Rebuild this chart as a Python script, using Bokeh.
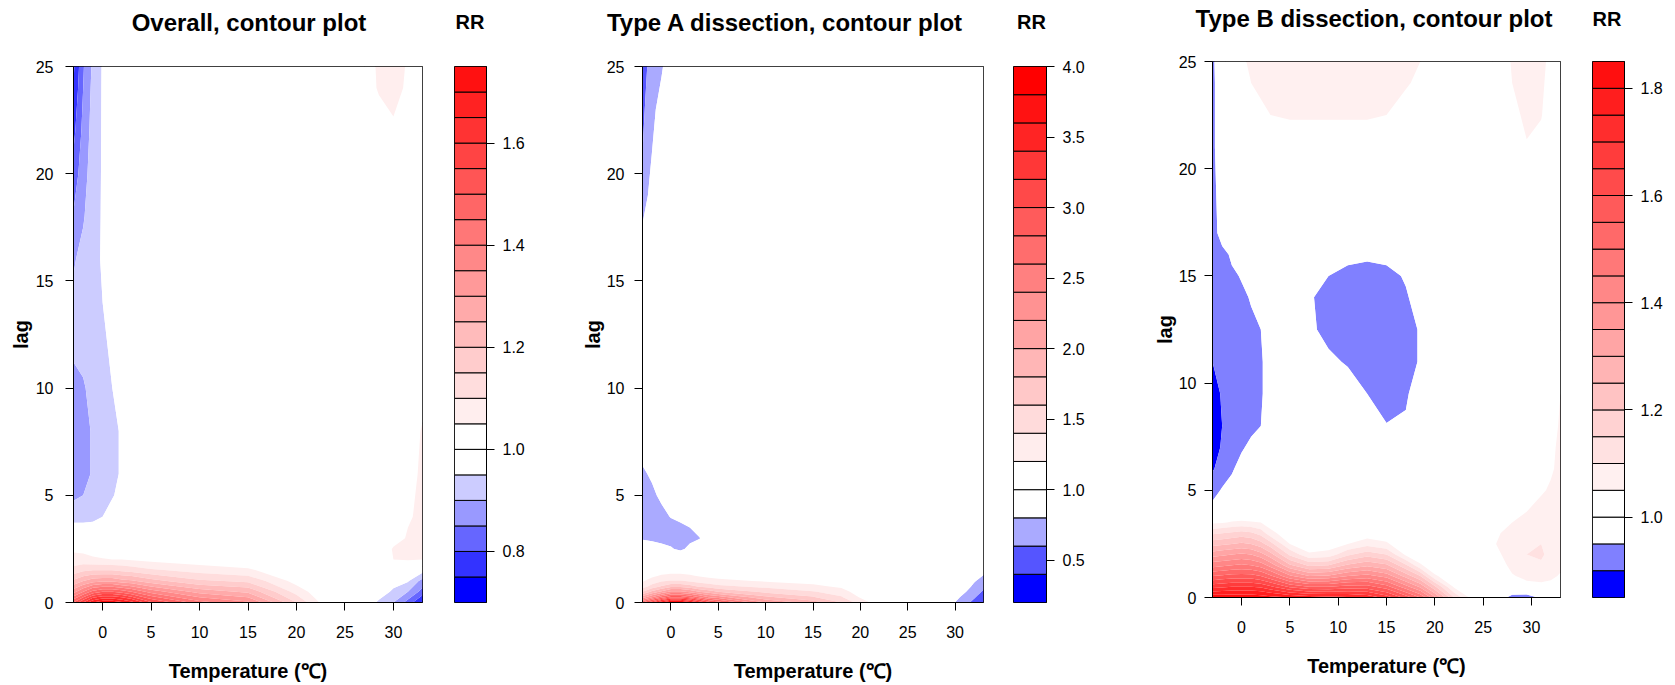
import numpy as np
from bokeh.plotting import figure
from bokeh.layouts import row, column
from bokeh.models import Range1d, FixedTicker, NumeralTickFormatter, Div
from bokeh.embed import file_html
from bokeh.resources import INLINE

FONT = "Liberation Sans"
FH = 536   # frame height (px)
DH = 46    # height of the title strip above each figure

# ---------------- data: RR surfaces ----------------
# Panel 1: Overall
temp_overall = [-3, -2, -1, 0, 1, 2, 3, 5, 10, 15, 20, 22, 24, 27, 28.5, 30, 31.5, 33]
lag_overall = [0, 0.5, 1, 1.5, 2, 2.5, 3, 4, 5, 6, 8, 10, 12, 14, 16, 18, 20, 22, 24, 25]
rr_overall = [
    [1.50, 1.60, 1.70, 1.74, 1.74, 1.71, 1.67, 1.56, 1.42, 1.36, 1.15, 1.06, 1.00, 0.99, 0.94, 0.90, 0.83, 0.74],
    [1.33, 1.40, 1.47, 1.50, 1.50, 1.48, 1.45, 1.38, 1.28, 1.24, 1.08, 1.03, 1.00, 1.00, 0.98, 0.94, 0.90, 0.83],
    [1.21, 1.25, 1.28, 1.29, 1.29, 1.27, 1.26, 1.22, 1.16, 1.14, 1.03, 1.00, 1.00, 1.00, 0.99, 0.97, 0.955, 0.88],
    [1.12, 1.14, 1.15, 1.15, 1.15, 1.14, 1.13, 1.11, 1.08, 1.06, 1.00, 1.00, 1.00, 1.00, 1.00, 0.99, 0.98, 0.97],
    [1.07, 1.07, 1.06, 1.055, 1.05, 1.05, 1.045, 1.035, 1.02, 1.01, 1.00, 1.00, 1.00, 1.00, 1.02, 1.05, 1.055, 1.05],
    [1.04, 1.035, 1.025, 1.015, 1.01, 1.005, 1.00, 1.00, 1.00, 1.00, 1.00, 1.00, 1.00, 1.00, 1.01, 1.055, 1.065, 1.065],
    [1.00, 1.00, 1.00, 1.00, 1.00, 1.00, 1.00, 1.00, 1.00, 1.00, 1.00, 1.00, 1.00, 1.00, 1.00, 1.03, 1.055, 1.065],
    [0.93, 0.93, 0.935, 0.95, 0.975, 0.99, 1.00, 1.00, 1.00, 1.00, 1.00, 1.00, 1.00, 1.00, 1.00, 1.01, 1.045, 1.06],
    [0.89, 0.90, 0.915, 0.93, 0.945, 0.97, 0.99, 1.00, 1.00, 1.00, 1.00, 1.00, 1.00, 1.00, 1.00, 1.00, 1.04, 1.06],
    [0.875, 0.885, 0.905, 0.925, 0.94, 0.955, 0.98, 1.00, 1.00, 1.00, 1.00, 1.00, 1.00, 1.00, 1.00, 1.00, 1.03, 1.06],
    [0.87, 0.885, 0.905, 0.925, 0.94, 0.955, 0.98, 1.00, 1.00, 1.00, 1.00, 1.00, 1.00, 1.00, 1.00, 1.00, 1.02, 1.055],
    [0.885, 0.895, 0.915, 0.93, 0.95, 0.97, 0.99, 1.00, 1.00, 1.00, 1.00, 1.00, 1.00, 1.00, 1.00, 1.00, 1.01, 1.03],
    [0.91, 0.915, 0.925, 0.94, 0.96, 0.98, 1.00, 1.00, 1.00, 1.00, 1.00, 1.00, 1.00, 1.00, 1.00, 1.00, 1.00, 1.01],
    [0.91, 0.92, 0.935, 0.95, 0.965, 0.985, 1.00, 1.00, 1.00, 1.00, 1.00, 1.00, 1.00, 1.00, 1.00, 1.00, 1.00, 1.00],
    [0.895, 0.915, 0.935, 0.955, 0.97, 0.99, 1.00, 1.00, 1.00, 1.00, 1.00, 1.00, 1.00, 1.00, 1.00, 1.00, 1.00, 1.00],
    [0.855, 0.895, 0.93, 0.955, 0.97, 0.99, 1.00, 1.00, 1.00, 1.00, 1.00, 1.00, 1.00, 1.00, 1.00, 1.00, 1.00, 1.00],
    [0.82, 0.88, 0.925, 0.955, 0.97, 0.99, 1.00, 1.00, 1.00, 1.00, 1.00, 1.00, 1.00, 1.00, 1.00, 1.00, 1.00, 1.00],
    [0.785, 0.865, 0.92, 0.955, 0.97, 0.99, 1.00, 1.00, 1.00, 1.00, 1.00, 1.00, 1.00, 1.00, 1.00, 1.04, 1.03, 1.00],
    [0.755, 0.85, 0.915, 0.955, 0.97, 0.99, 1.00, 1.00, 1.00, 1.00, 1.00, 1.00, 1.00, 1.00, 1.06, 1.07, 1.04, 1.00],
    [0.74, 0.845, 0.91, 0.955, 0.97, 0.99, 1.00, 1.00, 1.00, 1.00, 1.00, 1.00, 1.00, 1.00, 1.065, 1.07, 1.045, 1.00],
]

# Panel 2: Type A dissection
temp_type_a = [-3, -2, -1, 0, 1, 2, 3, 4, 5, 10, 15, 18, 20, 22, 25, 29, 30.5, 32, 33]
lag_type_a = [0, 0.25, 0.5, 0.75, 1, 1.25, 1.5, 2, 2.5, 3, 3.5, 4, 5, 6, 7, 10, 15, 17, 19, 21, 23, 25]
rr_type_a = [
    [2.80, 3.20, 3.60, 3.90, 3.90, 3.70, 3.40, 3.10, 2.90, 2.20, 1.90, 1.60, 1.30, 1.10, 1.00, 0.95, 0.72, 0.55, 0.45],
    [2.10, 2.40, 2.70, 2.95, 2.95, 2.80, 2.60, 2.40, 2.30, 1.85, 1.62, 1.42, 1.18, 1.05, 1.00, 0.97, 0.80, 0.62, 0.50],
    [1.60, 1.85, 2.05, 2.25, 2.25, 2.15, 2.00, 1.90, 1.80, 1.55, 1.42, 1.28, 1.10, 1.02, 1.00, 0.99, 0.88, 0.70, 0.57],
    [1.30, 1.48, 1.62, 1.75, 1.75, 1.68, 1.58, 1.52, 1.45, 1.35, 1.24, 1.17, 1.05, 1.00, 1.00, 1.00, 0.95, 0.76, 0.64],
    [1.18, 1.28, 1.38, 1.42, 1.42, 1.38, 1.32, 1.28, 1.25, 1.18, 1.14, 1.08, 1.02, 1.00, 1.00, 1.00, 0.99, 0.82, 0.72],
    [1.10, 1.16, 1.22, 1.24, 1.24, 1.22, 1.18, 1.15, 1.13, 1.09, 1.06, 1.03, 1.00, 1.00, 1.00, 1.00, 1.00, 0.90, 0.79],
    [1.05, 1.08, 1.12, 1.13, 1.13, 1.12, 1.10, 1.08, 1.06, 1.04, 1.02, 1.01, 1.00, 1.00, 1.00, 1.00, 1.00, 0.96, 0.86],
    [1.00, 1.01, 1.01, 1.01, 1.01, 1.01, 1.00, 1.00, 1.00, 1.00, 1.00, 1.00, 1.00, 1.00, 1.00, 1.00, 1.00, 1.00, 0.95],
    [0.92, 0.90, 0.86, 0.82, 0.76, 0.85, 0.93, 1.00, 1.00, 1.00, 1.00, 1.00, 1.00, 1.00, 1.00, 1.00, 1.00, 1.00, 0.98],
    [0.78, 0.76, 0.74, 0.73, 0.73, 0.75, 0.79, 0.90, 1.00, 1.00, 1.00, 1.00, 1.00, 1.00, 1.00, 1.00, 1.00, 1.00, 1.00],
    [0.72, 0.71, 0.71, 0.72, 0.75, 0.80, 0.88, 0.96, 1.00, 1.00, 1.00, 1.00, 1.00, 1.00, 1.00, 1.00, 1.00, 1.00, 1.00],
    [0.70, 0.71, 0.74, 0.81, 0.86, 0.90, 0.95, 1.00, 1.00, 1.00, 1.00, 1.00, 1.00, 1.00, 1.00, 1.00, 1.00, 1.00, 1.00],
    [0.72, 0.76, 0.84, 0.88, 0.93, 0.97, 1.00, 1.00, 1.00, 1.00, 1.00, 1.00, 1.00, 1.00, 1.00, 1.00, 1.00, 1.00, 1.00],
    [0.77, 0.83, 0.88, 0.93, 0.97, 1.00, 1.00, 1.00, 1.00, 1.00, 1.00, 1.00, 1.00, 1.00, 1.00, 1.00, 1.00, 1.00, 1.00],
    [0.85, 0.90, 0.95, 0.98, 1.00, 1.00, 1.00, 1.00, 1.00, 1.00, 1.00, 1.00, 1.00, 1.00, 1.00, 1.00, 1.00, 1.00, 1.00],
    [0.97, 0.99, 1.00, 1.00, 1.00, 1.00, 1.00, 1.00, 1.00, 1.00, 1.00, 1.00, 1.00, 1.00, 1.00, 1.00, 1.00, 1.00, 1.00],
    [0.95, 0.98, 1.00, 1.00, 1.00, 1.00, 1.00, 1.00, 1.00, 1.00, 1.00, 1.00, 1.00, 1.00, 1.00, 1.00, 1.00, 1.00, 1.00],
    [0.84, 0.92, 0.97, 1.00, 1.00, 1.00, 1.00, 1.00, 1.00, 1.00, 1.00, 1.00, 1.00, 1.00, 1.00, 1.00, 1.00, 1.00, 1.00],
    [0.72, 0.86, 0.92, 0.98, 1.00, 1.00, 1.00, 1.00, 1.00, 1.00, 1.00, 1.00, 1.00, 1.00, 1.00, 1.00, 1.00, 1.00, 1.00],
    [0.60, 0.80, 0.88, 0.96, 1.00, 1.00, 1.00, 1.00, 1.00, 1.00, 1.00, 1.00, 1.00, 1.00, 1.00, 1.00, 1.00, 1.00, 1.00],
    [0.55, 0.76, 0.86, 0.94, 1.00, 1.00, 1.00, 1.00, 1.00, 1.00, 1.00, 1.00, 1.00, 1.00, 1.00, 1.00, 1.00, 1.00, 1.00],
    [0.50, 0.70, 0.78, 0.90, 0.98, 1.00, 1.00, 1.00, 1.00, 1.00, 1.00, 1.00, 1.00, 1.00, 1.00, 1.00, 1.00, 1.00, 1.00],
]

# Panel 3: Type B dissection
temp_type_b = [-3, -2, -1, 0, 1, 2, 3, 5, 7, 9, 11, 13, 15, 17, 18.5, 20, 22, 24, 26, 28, 29.5, 31, 32, 33]
lag_type_b = [0, 0.5, 1, 1.5, 2, 2.5, 3, 3.5, 4, 5, 6, 7, 8, 9.5, 11, 12.5, 14, 15, 16, 17, 19, 21, 22.5, 24, 25]
rr_type_b = [
    [1.84, 1.84, 1.84, 1.84, 1.84, 1.83, 1.82, 1.80, 1.78, 1.77, 1.76, 1.74, 1.68, 1.58, 1.50, 1.36, 1.15, 1.02, 1.00, 0.93, 0.92, 0.96, 1.00, 1.02],
    [1.68, 1.69, 1.70, 1.70, 1.70, 1.69, 1.66, 1.59, 1.55, 1.55, 1.57, 1.57, 1.52, 1.42, 1.34, 1.21, 1.04, 1.00, 1.00, 1.01, 1.03, 1.035, 1.035, 1.03],
    [1.55, 1.56, 1.57, 1.57, 1.57, 1.55, 1.51, 1.41, 1.35, 1.36, 1.40, 1.42, 1.38, 1.28, 1.20, 1.06, 1.00, 1.00, 1.00, 1.045, 1.065, 1.07, 1.06, 1.045],
    [1.43, 1.44, 1.45, 1.46, 1.45, 1.43, 1.38, 1.26, 1.19, 1.20, 1.26, 1.29, 1.26, 1.16, 1.06, 1.00, 1.00, 1.00, 1.01, 1.065, 1.085, 1.09, 1.075, 1.06],
    [1.33, 1.34, 1.35, 1.36, 1.35, 1.32, 1.27, 1.14, 1.06, 1.07, 1.14, 1.18, 1.15, 1.04, 1.00, 1.00, 1.00, 1.00, 1.03, 1.075, 1.10, 1.11, 1.08, 1.065],
    [1.23, 1.24, 1.25, 1.26, 1.25, 1.22, 1.17, 1.05, 1.01, 1.02, 1.05, 1.08, 1.06, 1.00, 1.00, 1.00, 1.00, 1.00, 1.045, 1.075, 1.095, 1.10, 1.08, 1.065],
    [1.14, 1.15, 1.16, 1.17, 1.16, 1.13, 1.07, 1.01, 1.00, 1.00, 1.01, 1.02, 1.01, 1.00, 1.00, 1.00, 1.00, 1.00, 1.04, 1.065, 1.08, 1.085, 1.075, 1.065],
    [1.04, 1.045, 1.055, 1.06, 1.055, 1.05, 1.02, 1.00, 1.00, 1.00, 1.00, 1.00, 1.00, 1.00, 1.00, 1.00, 1.00, 1.00, 1.02, 1.05, 1.065, 1.075, 1.07, 1.065],
    [0.97, 1.00, 1.00, 1.00, 1.00, 1.00, 1.00, 1.00, 1.00, 1.00, 1.00, 1.00, 1.00, 1.00, 1.00, 1.00, 1.00, 1.00, 1.00, 1.03, 1.05, 1.065, 1.065, 1.065],
    [0.93, 0.955, 0.965, 0.98, 0.99, 1.00, 1.00, 1.00, 1.00, 1.00, 1.00, 1.00, 1.00, 1.00, 1.00, 1.00, 1.00, 1.00, 1.00, 1.00, 1.02, 1.045, 1.055, 1.06],
    [0.895, 0.92, 0.945, 0.965, 0.975, 0.99, 1.00, 1.00, 1.00, 1.00, 1.00, 1.00, 1.00, 1.00, 1.00, 1.00, 1.00, 1.00, 1.00, 1.00, 1.00, 1.03, 1.045, 1.06],
    [0.88, 0.905, 0.925, 0.945, 0.96, 0.975, 0.99, 1.00, 1.00, 1.00, 0.99, 0.98, 0.965, 0.975, 0.99, 1.00, 1.00, 1.00, 1.00, 1.00, 1.00, 1.02, 1.04, 1.06],
    [0.875, 0.90, 0.915, 0.93, 0.94, 0.95, 0.97, 1.00, 1.00, 0.99, 0.98, 0.965, 0.952, 0.955, 0.98, 1.00, 1.00, 1.00, 1.00, 1.00, 1.00, 1.01, 1.035, 1.055],
    [0.88, 0.905, 0.915, 0.925, 0.935, 0.945, 0.97, 1.00, 0.995, 0.985, 0.975, 0.95, 0.93, 0.945, 0.97, 0.99, 1.00, 1.00, 1.00, 1.00, 1.00, 1.00, 1.02, 1.05],
    [0.90, 0.91, 0.92, 0.93, 0.94, 0.945, 0.97, 1.00, 0.985, 0.96, 0.945, 0.93, 0.92, 0.93, 0.955, 0.985, 1.00, 1.00, 1.00, 1.00, 1.00, 1.00, 1.00, 1.03],
    [0.91, 0.92, 0.93, 0.935, 0.945, 0.95, 0.98, 0.995, 0.96, 0.935, 0.925, 0.92, 0.92, 0.93, 0.955, 0.985, 1.00, 1.00, 1.00, 1.00, 1.00, 1.00, 1.00, 1.00],
    [0.92, 0.93, 0.94, 0.945, 0.952, 0.97, 0.99, 1.00, 0.955, 0.935, 0.925, 0.92, 0.925, 0.945, 0.97, 0.995, 1.00, 1.00, 1.00, 1.00, 1.00, 1.00, 1.00, 1.00],
    [0.925, 0.935, 0.945, 0.952, 0.97, 0.99, 1.00, 1.00, 0.975, 0.95, 0.935, 0.93, 0.935, 0.955, 0.98, 1.00, 1.00, 1.00, 1.00, 1.00, 1.00, 1.00, 1.00, 1.00],
    [0.93, 0.94, 0.955, 0.97, 0.985, 1.00, 1.00, 1.00, 0.995, 0.98, 0.965, 0.96, 0.965, 0.98, 0.995, 1.00, 1.00, 1.00, 1.00, 1.00, 1.00, 1.00, 1.00, 1.00],
    [0.935, 0.965, 0.98, 1.00, 1.00, 1.00, 1.00, 1.00, 1.00, 1.00, 1.00, 1.00, 1.00, 1.00, 1.00, 1.00, 1.00, 1.00, 1.00, 1.00, 1.00, 1.00, 1.00, 1.00],
    [0.935, 0.975, 0.99, 1.00, 1.00, 1.00, 1.00, 1.00, 1.00, 1.00, 1.00, 1.00, 1.00, 1.00, 1.00, 1.00, 1.00, 1.00, 1.00, 1.00, 1.00, 1.00, 1.00, 1.00],
    [0.94, 0.98, 0.99, 1.00, 1.00, 1.00, 1.01, 1.02, 1.02, 1.02, 1.02, 1.02, 1.015, 1.00, 1.00, 1.00, 1.00, 1.00, 1.00, 1.00, 1.045, 1.02, 1.00, 1.00],
    [0.94, 0.98, 1.00, 1.00, 1.02, 1.04, 1.05, 1.055, 1.055, 1.055, 1.055, 1.055, 1.05, 1.03, 1.01, 1.00, 1.00, 1.00, 1.00, 1.03, 1.065, 1.055, 1.00, 1.00],
    [0.94, 0.98, 1.00, 1.03, 1.05, 1.06, 1.065, 1.07, 1.07, 1.07, 1.07, 1.07, 1.065, 1.055, 1.04, 1.02, 1.00, 1.00, 1.00, 1.05, 1.07, 1.06, 1.03, 1.00],
    [0.94, 0.99, 1.02, 1.045, 1.055, 1.065, 1.07, 1.07, 1.07, 1.07, 1.07, 1.07, 1.07, 1.06, 1.05, 1.03, 1.00, 1.00, 1.00, 1.055, 1.075, 1.065, 1.035, 1.00],
]

# contour levels (colour key breaks) and key tick labels
levels_overall = [round(0.70 + 0.05 * i, 2) for i in range(22)]
levels_type_a = [round(0.2 + 0.2 * i, 1) for i in range(20)]
levels_type_b = [round(0.85 + 0.05 * i, 2) for i in range(21)]
ticks_overall = [0.8, 1.0, 1.2, 1.4, 1.6]
ticks_type_a = [0.5, 1.0, 1.5, 2.0, 2.5, 3.0, 3.5, 4.0]
ticks_type_b = [1.0, 1.2, 1.4, 1.6, 1.8]
temp_ticks = [0, 5, 10, 15, 20, 25, 30]
lag_ticks = [0, 5, 10, 15, 20, 25]


def reds(n, d):
    out = []
    for k in range(1, n + 1):
        v = int(round(255 * (1 - k / d)))
        out.append("#FF%02X%02X" % (v, v))
    return out


colors_overall = ["#0000FF", "#3333FF", "#6666FF", "#9999FF", "#CCCCFF", "#FFFFFF", "#FFFFFF"] + reds(14, 15)
colors_type_a = ["#0000FF", "#5555FF", "#AAAAFF", "#FFFFFF", "#FFFFFF"] + reds(14, 14)
colors_type_b = ["#0000FF", "#8080FF", "#FFFFFF", "#FFFFFF"] + reds(16, 17)


def style_axis(ax, tick_standoff, label_standoff):
    ax.major_tick_out = 8
    ax.major_tick_in = 0
    ax.minor_tick_out = 0
    ax.minor_tick_in = 0
    ax.axis_line_color = "black"
    ax.major_tick_line_color = "black"
    ax.major_label_text_font = FONT
    ax.major_label_text_font_size = "16px"
    ax.major_label_text_color = "black"
    ax.major_label_standoff = tick_standoff
    ax.axis_label_text_font = FONT
    ax.axis_label_text_font_style = "bold"
    ax.axis_label_text_font_size = "20px"
    ax.axis_label_text_color = "black"
    ax.axis_label_standoff = label_standoff


def title_div(text, width, dx, pad_top, size, line_h):
    html = ('<div style="position:relative;display:block;box-sizing:border-box;'
            'width:%dpx;left:%dpx;padding-top:%dpx;text-align:center;'
            'font-family:\'Liberation Sans\',Arial,sans-serif;font-weight:bold;'
            'font-size:%dpx;line-height:%dpx;color:#000;white-space:nowrap;">%s</div>'
            % (width, dx, pad_top, size, line_h, text))
    return Div(text=html, width=width, height=DH, margin=0)


def contour_panel(xs, lags, rr, levels, colors, frame_w, top, left, right, bottom,
                  ytick_so, ylab_so, xlab_so):
    p = figure(frame_width=frame_w, frame_height=FH,
               x_range=Range1d(-3, 33), y_range=Range1d(0, 25),
               min_border_left=left, min_border_right=right,
               min_border_top=top, min_border_bottom=bottom,
               title_location=None,
               output_backend="svg", toolbar_location=None,
               background_fill_color="white", border_fill_color="white")
    z = np.clip(np.array(rr, dtype=float), levels[0] + 1e-6, levels[-1] - 1e-6)
    cr = p.contour(np.array(xs, dtype=float), np.array(lags, dtype=float), z, levels,
                   fill_color=colors)
    try:
        g = cr.fill_renderer.glyph
        g.line_color = g.fill_color
        g.line_width = 0.8
    except Exception:
        pass
    p.grid.visible = False
    p.outline_line_color = "black"
    p.outline_line_width = 1
    p.outline_line_alpha = 1.0
    p.xaxis.ticker = FixedTicker(ticks=temp_ticks)
    p.yaxis.ticker = FixedTicker(ticks=lag_ticks)
    p.xaxis.axis_label = "Temperature (\u2103)"
    p.yaxis.axis_label = "lag"
    style_axis(p.xaxis[0], 15, xlab_so)
    style_axis(p.yaxis[0], ytick_so, ylab_so)
    return p


def color_key(levels, colors, ticks, frame_w, top, right, bottom):
    lo, hi = levels[0], levels[-1]
    c = figure(frame_width=frame_w, frame_height=FH,
               x_range=Range1d(0, 1), y_range=Range1d(lo, hi),
               x_axis_location=None, y_axis_location="right",
               min_border_left=10, min_border_right=right,
               min_border_top=top, min_border_bottom=bottom,
               title_location=None,
               output_backend="svg", toolbar_location=None,
               background_fill_color="white", border_fill_color="white")
    c.quad(left=0, right=1, bottom=levels[:-1], top=levels[1:],
           fill_color=colors, line_color="black", line_width=1)
    c.grid.visible = False
    c.outline_line_color = "black"
    c.outline_line_width = 1
    ax = c.yaxis[0]
    ax.ticker = FixedTicker(ticks=ticks)
    ax.formatter = NumeralTickFormatter(format="0.0")
    style_axis(ax, 8, 0)
    return c


# widths: p1 444, c1 128, p2 431, c2 139, p3 440, c3 84  (total 1666)
p1 = contour_panel(temp_overall, lag_overall, rr_overall, levels_overall, colors_overall,
                   349, 66 - DH, 73, 22, 83, 12, 1, 19)
c1 = color_key(levels_overall, colors_overall, ticks_overall, 32, 66 - DH, 86, 40)
p2 = contour_panel(temp_type_a, lag_type_a, rr_type_a, levels_type_a, colors_type_a,
                   341, 66 - DH, 70, 20, 83, 10, 0, 19)
c2 = color_key(levels_type_a, colors_type_a, ticks_type_a, 33, 66 - DH, 96, 40)
p3 = contour_panel(temp_type_b, lag_type_b, rr_type_b, levels_type_b, colors_type_b,
                   348, 61 - DH, 70, 22, 86, 8, 0, 19)
c3 = color_key(levels_type_b, colors_type_b, ticks_type_b, 32, 61 - DH, 42, 40)

t1 = title_div("Overall, contour plot", 444, 27, 9, 24, 28)
r1 = title_div("RR", 128, -38, 10, 20, 24)
t2 = title_div("Type A dissection, contour plot", 431, -3, 9, 24, 28)
r2 = title_div("RR", 139, -41, 10, 20, 24)
t3 = title_div("Type B dissection, contour plot", 440, 12, 5, 24, 28)
r3 = title_div("RR", 84, -17, 7, 20, 24)

layout = row(column(t1, p1, spacing=0), column(r1, c1, spacing=0),
             column(t2, p2, spacing=0), column(r2, c2, spacing=0),
             column(t3, p3, spacing=0), column(r3, c3, spacing=0), spacing=0)

open("out.html", "w").write(file_html(layout, INLINE))
